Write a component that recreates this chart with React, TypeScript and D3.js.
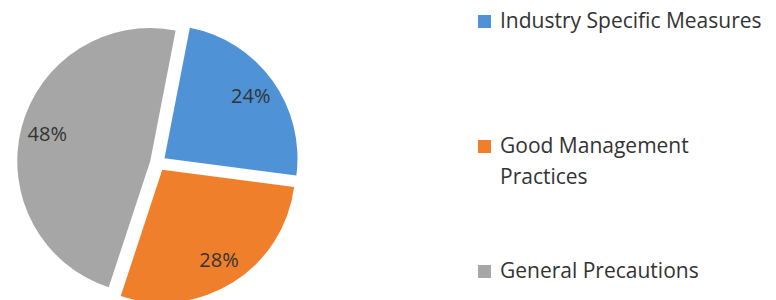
import React, { useEffect, useRef } from "react";
import * as d3 from "d3";

// chart data
const categories = ["Industry Specific Measures", "Good Management Practices", "General Precautions"];
const shares = [24, 28, 48];
const legendLines = [["Industry Specific Measures"], ["Good Management", "Practices"], ["General Precautions"]];
const colors = ["#4F92D6", "#F07F2C", "#A6A6A6"];

const width = 776;
const height = 300;

export default function App() {
  const ref = useRef<SVGSVGElement | null>(null);

  useEffect(() => {
    const svg = d3.select(ref.current);
    svg.selectAll("*").remove();

    const cx = 158;
    const cy = 163;
    const radius = 133;
    const explode = 8;
    const start = (11 * Math.PI) / 180;

    const data = categories.map((c, i) => ({ name: c, value: shares[i], color: colors[i] }));
    const pie = d3
      .pie<any>()
      .sort(null)
      .value((d) => d.value)
      .startAngle(start)
      .endAngle(start + 2 * Math.PI);
    const arc = d3.arc<any>().innerRadius(0).outerRadius(radius);
    const labelArc = d3.arc<any>().innerRadius(radius * 0.8).outerRadius(radius * 0.8);

    const slices = svg
      .append("g")
      .attr("transform", `translate(${cx},${cy})`)
      .selectAll("g")
      .data(pie(data))
      .join("g")
      .attr("transform", (d) => {
        const a = (d.startAngle + d.endAngle) / 2;
        return `translate(${Math.sin(a) * explode},${-Math.cos(a) * explode})`;
      });

    slices
      .append("path")
      .attr("d", arc)
      .attr("fill", (d) => d.data.color);

    slices
      .append("text")
      .attr("transform", (d) => `translate(${labelArc.centroid(d)})`)
      .attr("text-anchor", "middle")
      .attr("dy", "0.36em")
      .attr("font-family", "Open Sans, sans-serif")
      .attr("font-size", 20)
      .attr("fill", "#333")
      .text((d) => `${d.data.value}%`);

    // legend
    const y = d3.scalePoint<string>().domain(categories).range([14, 264]);
    const legend = svg
      .append("g")
      .selectAll("g")
      .data(categories)
      .join("g")
      .attr("transform", (d) => `translate(478,${y(d)})`);

    legend
      .append("rect")
      .attr("y", 1)
      .attr("width", 13)
      .attr("height", 13)
      .attr("fill", (d, i) => colors[i]);

    legend
      .append("text")
      .attr("x", 22)
      .attr("font-family", "Open Sans, sans-serif")
      .attr("font-size", 21)
      .attr("fill", "#333")
      .selectAll("tspan")
      .data((d, i) => legendLines[i])
      .join("tspan")
      .attr("x", 22)
      .attr("y", (d, i) => 14 + i * 31)
      .text((d) => d);
  }, []);

  return (
    <svg
      ref={ref}
      width={width}
      height={height}
      style={{ position: "absolute", left: 0, top: 0, background: "#fff" }}
    />
  );
}
